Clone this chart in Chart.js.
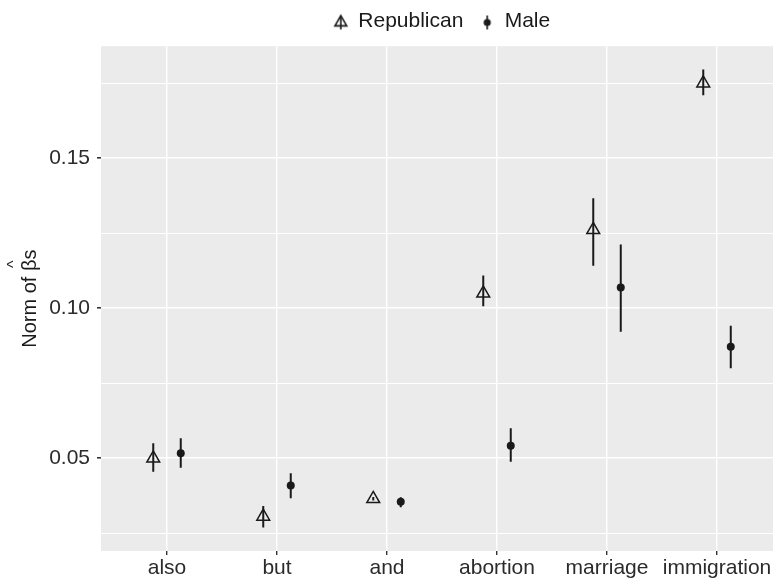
<!DOCTYPE html>
<html>
<head>
<meta charset="utf-8">
<script src="https://cdn.jsdelivr.net/npm/chart.js@4"></script>
<style>
  html, body { margin: 0; padding: 0; background: #ffffff; overflow: hidden; }
  #c { display: block; }
</style>
</head>
<body>
<canvas id="c" width="773" height="580"></canvas>
<script>
// ---- data ----
const categories = ['also', 'but', 'and', 'abortion', 'marriage', 'immigration'];
const seriesNames = ['Republican', 'Male'];
const repEst  = [0.0499, 0.0305, 0.0364, 0.1049, 0.1261, 0.1750];
const repLo   = [0.0454, 0.0268, 0.0358, 0.1006, 0.1141, 0.1710];
const repHi   = [0.0549, 0.0340, 0.0370, 0.1109, 0.1366, 0.1796];
const maleEst = [0.0516, 0.0408, 0.0354, 0.0541, 0.1069, 0.0871];
const maleLo  = [0.0468, 0.0366, 0.0336, 0.0488, 0.0921, 0.0799];
const maleHi  = [0.0566, 0.0449, 0.0369, 0.0599, 0.1212, 0.0941];
const yMajorTicks = [0.05, 0.10, 0.15];
const yMinorTicks = [0.025, 0.075, 0.125, 0.175];
const yTitlePre = 'Norm of ';
const yTitleSym = '\u03B2';   // beta, drawn with a hat (^) over it
const yTitlePost = 's';
const yTitleHat = '^';

// ---- styling ----
const INK = '#1a1a1a';
const DODGE = 0.125;
const FONT = "'Liberation Sans', Arial, Helvetica, sans-serif";
const TITLE_SIZE = 20, TITLE_PAD = 18;
Chart.defaults.font.family = FONT;
Chart.defaults.font.size = 21;
Chart.defaults.color = '#2b2b2b';

function legendIcon(kind) {
  const cv = document.createElement('canvas');
  cv.width = 16; cv.height = 18;
  const g = cv.getContext('2d');
  g.strokeStyle = INK; g.fillStyle = INK; g.lineWidth = 1.6;
  const cx = 8, cy = 10;
  g.beginPath(); g.moveTo(cx, 3); g.lineTo(cx, 17); g.stroke();
  if (kind === 'triangle') {
    const r = 6.8;
    g.beginPath();
    g.moveTo(cx, cy - r);
    g.lineTo(cx + r * Math.sin(2 * Math.PI / 3), cy - r * Math.cos(2 * Math.PI / 3));
    g.lineTo(cx - r * Math.sin(2 * Math.PI / 3), cy - r * Math.cos(2 * Math.PI / 3));
    g.closePath(); g.stroke();
  } else {
    g.beginPath(); g.arc(cx, cy, 3.6, 0, Math.PI * 2); g.fill();
  }
  return cv;
}

const datasets = [];
function addErrorBars(lo, hi, off, name) {
  categories.forEach((c, i) => {
    datasets.push({
      type: 'line', label: name + ' range ' + c,
      data: [{ x: i + off, y: lo[i] }, { x: i + off, y: hi[i] }],
      borderColor: INK, borderWidth: 2, pointRadius: 0, showLine: true, fill: false, order: 2
    });
  });
}
addErrorBars(repLo, repHi, -DODGE, seriesNames[0]);
addErrorBars(maleLo, maleHi, DODGE, seriesNames[1]);
datasets.push({
  type: 'scatter', label: seriesNames[0],
  data: categories.map((c, i) => ({ x: i - DODGE, y: repEst[i] })),
  pointStyle: 'triangle', pointRadius: 7.4, borderColor: INK, borderWidth: 1.5,
  backgroundColor: 'rgba(0,0,0,0)', order: 1
});
datasets.push({
  type: 'scatter', label: seriesNames[1],
  data: categories.map((c, i) => ({ x: i + DODGE, y: maleEst[i] })),
  pointStyle: 'circle', pointRadius: 4, borderWidth: 0, borderColor: INK,
  backgroundColor: INK, order: 1
});

const panelBg = {
  id: 'panelBg',
  beforeDraw(chart) {
    const a = chart.chartArea, ctx = chart.ctx;
    ctx.save(); ctx.fillStyle = '#EBEBEB';
    ctx.fillRect(a.left, a.top, a.right - a.left, a.bottom - a.top);
    ctx.restore();
  }
};

// shift the legend so it is centred over the panel like the original
const legendShift = {
  id: 'legendShift',
  afterLayout(chart) { if (chart.legend) { chart.legend.left += 5; chart.legend.right += 5; } }
};

// hat over the beta in the y-axis title
const betaHat = {
  id: 'betaHat',
  afterDraw(chart) {
    const ctx = chart.ctx, a = chart.chartArea, ys = chart.scales.y;
    const full = yTitlePre + yTitleSym + yTitlePost;
    ctx.save();
    ctx.font = TITLE_SIZE + 'px ' + FONT;
    const wFull = ctx.measureText(full).width;
    const wPre = ctx.measureText(yTitlePre).width;
    const wSym = ctx.measureText(yTitleSym).width;
    const tx = ys.left + TITLE_PAD + TITLE_SIZE * 1.2 / 2;
    const ty = (a.top + a.bottom) / 2;
    ctx.translate(tx, ty);
    ctx.rotate(-Math.PI / 2);
    const along = -wFull / 2 + wPre + wSym / 2 + 1;
    ctx.font = '16px ' + FONT;
    ctx.fillStyle = INK;
    ctx.textAlign = 'center';
    ctx.textBaseline = 'alphabetic';
    ctx.fillText(yTitleHat, along, TITLE_SIZE * 0.35 - 18);
    ctx.restore();
  }
};

const icons = { Republican: legendIcon('triangle'), Male: legendIcon('circle') };

new Chart(document.getElementById('c'), {
  type: 'scatter',
  data: { datasets },
  plugins: [panelBg, legendShift, betaHat],
  options: {
    responsive: false, animation: false, events: [],
    layout: { autoPadding: false, padding: { top: 0, left: 0, right: 0, bottom: 0 } },
    plugins: {
      tooltip: { enabled: false },
      subtitle: { display: true, text: '', position: 'top', weight: 500, font: { size: 1 }, padding: { top: 0, bottom: 3 } },
      legend: {
        position: 'top', align: 'center', fullSize: false,
        labels: {
          usePointStyle: true, boxWidth: 14, padding: 11,
          color: INK, font: { size: 21 },
          generateLabels: () => seriesNames.map((n, k) => ({
            text: n + (k === 0 ? ' ' : ''), pointStyle: icons[n], fillStyle: INK, strokeStyle: INK,
            lineWidth: 0, hidden: false, datasetIndex: 12 + k, fontColor: INK
          }))
        }
      }
    },
    scales: {
      x: {
        type: 'linear', min: -0.6, max: 5.509,
        afterBuildTicks: s => { s.ticks = categories.map((c, i) => ({ value: i })); },
        afterFit: s => { s.height = 29; s.paddingLeft = 0; s.paddingRight = 0; },
        border: { display: false },
        grid: { color: '#ffffff', lineWidth: 1.4, tickColor: '#333333', tickLength: 4, drawTicks: true },
        ticks: { autoSkip: false, maxRotation: 0, padding: 1, color: '#2b2b2b', font: { size: 21 },
                 callback: v => categories[v] }
      },
      y: {
        type: 'linear', min: 0.019, max: 0.18733,
        afterBuildTicks: s => {
          s.ticks = yMinorTicks.concat(yMajorTicks).sort((a, b) => a - b).map(v => ({ value: v }));
        },
        afterFit: s => { s.width = 101; s.paddingTop = 0; s.paddingBottom = 0; },
        border: { display: false },
        title: { display: true, text: yTitlePre + yTitleSym + yTitlePost, color: INK,
                 font: { size: TITLE_SIZE, family: FONT },
                 padding: { top: TITLE_PAD, bottom: 0 } },
        grid: {
          color: '#ffffff',
          lineWidth: c => (c.tick && yMajorTicks.some(m => Math.abs(m - c.tick.value) < 1e-9)) ? 1.6 : 1.0,
          tickColor: c => (c.tick && yMajorTicks.some(m => Math.abs(m - c.tick.value) < 1e-9)) ? '#333333' : 'rgba(0,0,0,0)',
          tickLength: 4, drawTicks: true
        },
        ticks: {
          padding: 7, color: '#2b2b2b', font: { size: 21 },
          callback: v => yMajorTicks.some(m => Math.abs(m - v) < 1e-9) ? v.toFixed(2) : ''
        }
      }
    }
  }
});
</script>
</body>
</html>
